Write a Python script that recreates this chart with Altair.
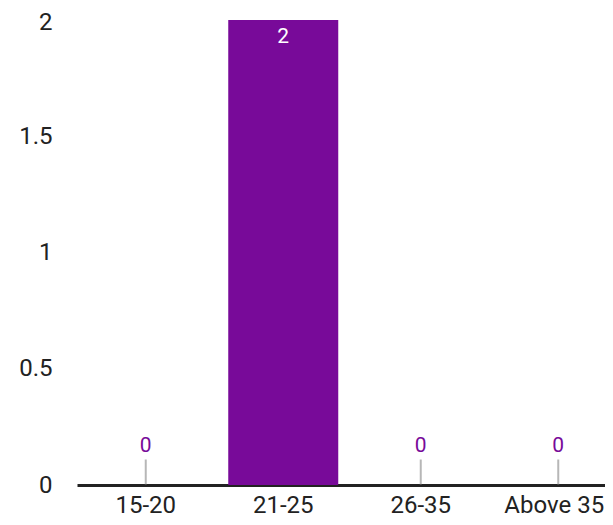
import altair as alt
import pandas as pd

categories = ["15-20", "21-25", "26-35", "Above 35"]
counts = [0, 2, 0, 0]
y_ticks = [0, 0.5, 1, 1.5, 2]

df = pd.DataFrame({"cat": categories, "value": counts})
df["label"] = df["value"].astype(str)

PURPLE = "#780a99"
FONT = "Roboto"
TEXT = "#222222"

x = alt.X("cat:N", sort=categories, title=None,
          scale=alt.Scale(paddingInner=0.2, paddingOuter=0.1, range=[0, 550]),
          axis=alt.Axis(labelAngle=0, labelFont=FONT, labelFontSize=24, labelColor=TEXT,
                        ticks=False, tickSize=0, labelPadding=27, labelBaseline="alphabetic",
                        labelOffset={"condition": {"test": "datum.value == 'Above 35'", "value": -4},
                                     "value": 0},
                        domainColor=TEXT, domainWidth=3, grid=False))
y = alt.Y("value:Q", title=None, scale=alt.Scale(domain=[0, 2], nice=False),
          axis=alt.Axis(values=y_ticks, format="~g", labelFont=FONT, labelFontSize=24,
                        labelColor=TEXT, ticks=False, tickSize=0, domain=False,
                        labelOffset={"condition": {"test": "datum.value == 2", "value": 2},
                                     "value": 0},
                        grid=False, labelPadding=25))

base = alt.Chart(df)

bars = base.mark_bar(color=PURPLE).encode(x=x, y=y)

zero = base.transform_filter(alt.datum.value == 0)
leaders = zero.mark_tick(orient="vertical", color="#999999", thickness=2, size=25,
                         yOffset=-13).encode(x=x, y=y)
zero_text = zero.mark_text(color=PURPLE, font=FONT, fontSize=21, dy=-39).encode(
    x=x, y=y, text="label:N")
pos_text = base.transform_filter(alt.datum.value > 0).mark_text(
    color="white", font=FONT, fontSize=21, dy=17).encode(x=x, y=y, text="label:N")

chart = alt.layer(bars, leaders, zero_text, pos_text).properties(
    width=528, height=465,
    padding={"left": 69, "top": 12, "right": 0, "bottom": 32},
    autosize=alt.AutoSizeParams(type="none"),
).configure_view(stroke=None)

chart.save("out.html", embed_options={"renderer": "svg", "actions": False})
